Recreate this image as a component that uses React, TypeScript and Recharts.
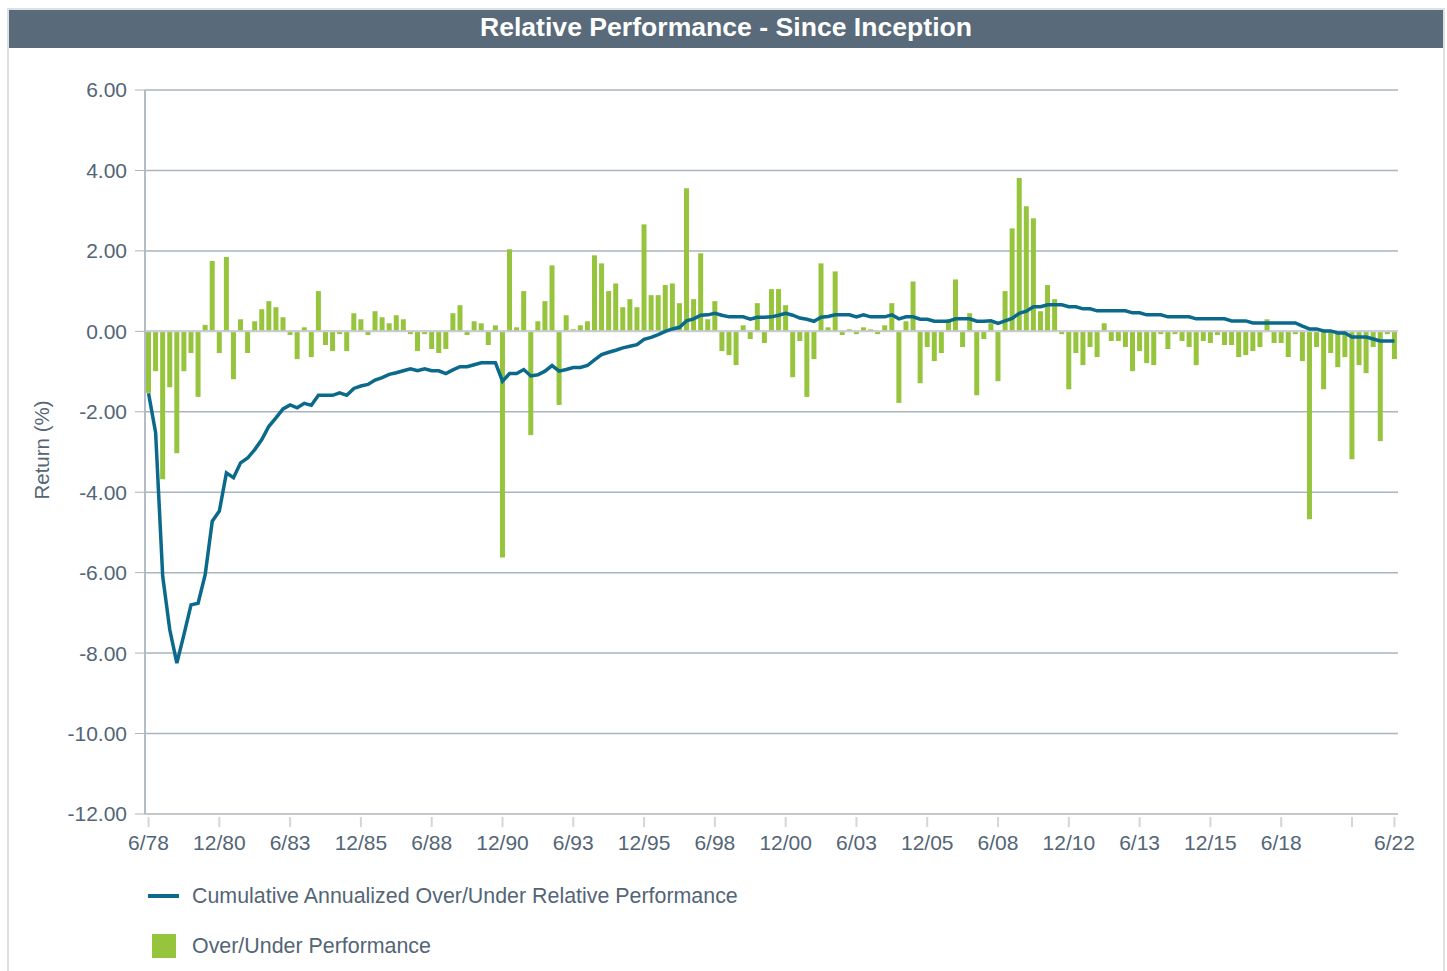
import React from 'react';
import {
  ComposedChart,
  Bar,
  Line,
  XAxis,
  YAxis,
  CartesianGrid,
  ReferenceLine,
} from 'recharts';

// Quarter-end categories, 6/78 through 6/22
const quarterLabels: string[] = [];
for (let k = 0; k < 177; k++) {
  const monthIdx = 6 + 3 * k - 1;
  const month = (monthIdx % 12) + 1;
  const year = (78 + Math.floor(monthIdx / 12)) % 100;
  quarterLabels.push(`${month}/${String(year).padStart(2, '0')}`);
}

// Quarterly over/under performance (%)
const overUnder = [
  -1.53, -0.99, -3.68, -1.39, -3.03, -0.99, -0.54, -1.63, 0.16, 1.75,
  -0.54, 1.85, -1.19, 0.3, -0.54, 0.25, 0.55, 0.75, 0.6, 0.35,
  -0.09, -0.69, 0.1, -0.64, 1.0, -0.34, -0.49, -0.07, -0.49, 0.45,
  0.3, -0.09, 0.5, 0.35, 0.2, 0.4, 0.3, -0.07, -0.49, -0.07,
  -0.44, -0.54, -0.44, 0.45, 0.65, -0.09, 0.25, 0.2, -0.34, 0.15,
  -5.62, 2.04, 0.1, 1.0, -2.58, 0.25, 0.75, 1.64, -1.83, 0.4,
  0.05, 0.15, 0.25, 1.89, 1.69, 1.0, 1.19, 0.6, 0.8, 0.6,
  2.66, 0.9, 0.9, 1.15, 1.19, 0.7, 3.56, 0.8, 1.94, 0.3,
  0.75, -0.49, -0.59, -0.84, 0.15, -0.19, 0.7, -0.29, 1.05, 1.05,
  0.65, -1.14, -0.24, -1.63, -0.69, 1.69, 0.1, 1.49, -0.09, 0.05,
  -0.07, 0.1, 0.05, -0.07, 0.15, 0.7, -1.78, 0.25, 1.24, -1.29,
  -0.39, -0.74, -0.54, 0.3, 1.29, -0.39, 0.45, -1.59, -0.19, 0.2,
  -1.24, 1.0, 2.56, 3.81, 3.11, 2.81, 0.5, 1.15, 0.8, -0.07,
  -1.44, -0.54, -0.84, -0.39, -0.64, 0.2, -0.24, -0.24, -0.39, -0.99,
  -0.49, -0.79, -0.84, -0.07, -0.44, -0.07, -0.24, -0.39, -0.84, -0.24,
  -0.29, -0.09, -0.34, -0.34, -0.64, -0.59, -0.49, -0.39, 0.3, -0.29,
  -0.29, -0.64, -0.07, -0.74, -4.67, -0.39, -1.44, -0.54, -0.89, -0.64,
  -3.18, -0.84, -1.04, -0.39, -2.73, -0.07, -0.69,
];

// Cumulative annualized over/under relative performance (%)
const cumulative = [
  -1.54, -2.52, -6.09, -7.42, -8.25, -7.54, -6.8, -6.76, -6.05, -4.72,
  -4.47, -3.52, -3.64, -3.27, -3.15, -2.94, -2.69, -2.36, -2.15, -1.93,
  -1.83, -1.9, -1.79, -1.84, -1.59, -1.59, -1.59, -1.53, -1.59, -1.42,
  -1.36, -1.32, -1.21, -1.15, -1.07, -1.03, -0.98, -0.93, -0.98, -0.93,
  -0.98, -0.98, -1.05, -0.96, -0.88, -0.88, -0.83, -0.78, -0.78, -0.78,
  -1.24, -1.05, -1.05, -0.95, -1.11, -1.08, -0.99, -0.85, -0.99, -0.95,
  -0.9, -0.9, -0.85, -0.71, -0.58, -0.52, -0.47, -0.41, -0.37, -0.33,
  -0.2, -0.15, -0.08, 0.0, 0.06, 0.1, 0.26, 0.31, 0.4, 0.41,
  0.45, 0.4, 0.36, 0.36, 0.36, 0.3, 0.35, 0.35, 0.36, 0.4,
  0.45, 0.4, 0.33, 0.3, 0.25, 0.35, 0.37, 0.41, 0.41, 0.41,
  0.36, 0.41, 0.36, 0.36, 0.36, 0.41, 0.31, 0.36, 0.36, 0.3,
  0.3, 0.25, 0.25, 0.25, 0.31, 0.31, 0.31, 0.25, 0.25, 0.26,
  0.2, 0.26, 0.32, 0.45, 0.5, 0.61, 0.61, 0.66, 0.66, 0.66,
  0.61, 0.61, 0.56, 0.56, 0.51, 0.51, 0.51, 0.51, 0.51, 0.46,
  0.46, 0.41, 0.41, 0.41, 0.36, 0.36, 0.36, 0.36, 0.31, 0.31,
  0.31, 0.31, 0.31, 0.26, 0.26, 0.26, 0.21, 0.21, 0.21, 0.21,
  0.21, 0.21, 0.21, 0.13, 0.06, 0.06, 0.01, 0.01, -0.04, -0.04,
  -0.14, -0.14, -0.14, -0.19, -0.24, -0.24, -0.24,
];

const xTickLabels = [
  '6/78', '12/80', '6/83', '12/85', '6/88', '12/90', '6/93', '12/95', '6/98', '12/00',
  '6/03', '12/05', '6/08', '12/10', '6/13', '12/15', '6/18', '12/20', '6/22',
];
// ticks that get a mark but no label (crowded at the right end)
const unlabeledTicks = ['12/20'];

const yTicks = [6, 4, 2, 0, -2, -4, -6, -8, -10, -12];

const data = quarterLabels.map((q, i) => ({
  quarter: q,
  overUnder: overUnder[i],
  cumulative: cumulative[i],
}));

const TEXT = '#536576';
const LINE_COLOR = '#0b6a8b';
const BAR_COLOR = '#96c43d';

const QuarterTick = (props: any) => {
  const { x, y, payload } = props;
  if (!xTickLabels.includes(payload.value)) return <g />;
  return (
    <g>
      <line x1={x} x2={x} y1={y - 18} y2={y - 8} stroke="#d3d6da" strokeWidth={2} />
      {!unlabeledTicks.includes(payload.value) && (
        <text x={x} y={y} dy="0.71em" textAnchor="middle" fontSize={21} fill={TEXT}>
          {payload.value}
        </text>
      )}
    </g>
  );
};

export default function App() {
  return (
    <div
      style={{
        position: 'absolute',
        left: 0,
        top: 0,
        width: 1447,
        height: 971,
        background: '#fff',
        overflow: 'hidden',
        fontFamily: '"Liberation Sans", Arial, sans-serif',
      }}
    >
      {/* outer frame */}
      <div
        style={{
          position: 'absolute',
          left: 7,
          top: 8,
          width: 1438,
          height: 970,
          border: '2px solid #dde1e6',
          boxSizing: 'border-box',
        }}
      />
      {/* title bar */}
      <div
        style={{
          position: 'absolute',
          left: 9,
          top: 10,
          width: 1434,
          height: 38,
          background: '#596a7a',
          color: '#fff',
          fontWeight: 'bold',
          fontSize: 26.6,
          lineHeight: '34px',
          textAlign: 'center',
        }}
      >
        Relative Performance - Since Inception
      </div>

      <div style={{ position: 'absolute', left: 0, top: 0 }}>
        <ComposedChart
          width={1447}
          height={880}
          data={data}
          margin={{ top: 90, right: 49, bottom: 26, left: 45 }}
        >
          <CartesianGrid horizontal vertical={false} stroke="#aab4be" strokeWidth={1.5} />
          <XAxis
            dataKey="quarter"
            interval={0}
            height={40}
            tick={<QuarterTick />}
            tickLine={false}
            tickSize={12}
            tickMargin={9}
            axisLine={{ stroke: '#c4c7cc', strokeWidth: 2 }}
          />
          <YAxis
            type="number"
            domain={[-12, 6]}
            ticks={yTicks}
            interval={0}
            width={100}
            tickFormatter={(v: number) => v.toFixed(2)}
            tick={{ fontSize: 21, fill: TEXT }}
            tickLine={{ stroke: '#aab4be' }}
            tickSize={10}
            tickMargin={8}
            axisLine={{ stroke: '#b3bcc5', strokeWidth: 2 }}
          />
          <ReferenceLine y={0} stroke="#c9ccd3" strokeWidth={2} />
          <Bar dataKey="overUnder" fill={BAR_COLOR} barSize={5} isAnimationActive={false} />
          <Line
            type="linear"
            dataKey="cumulative"
            stroke={LINE_COLOR}
            strokeWidth={3.5}
            dot={false}
            activeDot={false}
            isAnimationActive={false}
          />
        </ComposedChart>
      </div>

      {/* y-axis title */}
      <div
        style={{
          position: 'absolute',
          left: 42,
          top: 450,
          transform: 'translate(-50%, -50%) rotate(-90deg)',
          fontSize: 20.5,
          color: TEXT,
          whiteSpace: 'nowrap',
        }}
      >
        Return (%)
      </div>

      {/* legend */}
      <div style={{ position: 'absolute', left: 148, top: 894, width: 31, height: 4, background: LINE_COLOR }} />
      <div style={{ position: 'absolute', left: 192, top: 884, fontSize: 21.4, lineHeight: '24px', color: TEXT }}>
        Cumulative Annualized Over/Under Relative Performance
      </div>
      <div style={{ position: 'absolute', left: 152, top: 934, width: 24, height: 24, background: BAR_COLOR }} />
      <div style={{ position: 'absolute', left: 192, top: 934, fontSize: 21.4, lineHeight: '24px', color: TEXT }}>
        Over/Under Performance
      </div>
    </div>
  );
}
